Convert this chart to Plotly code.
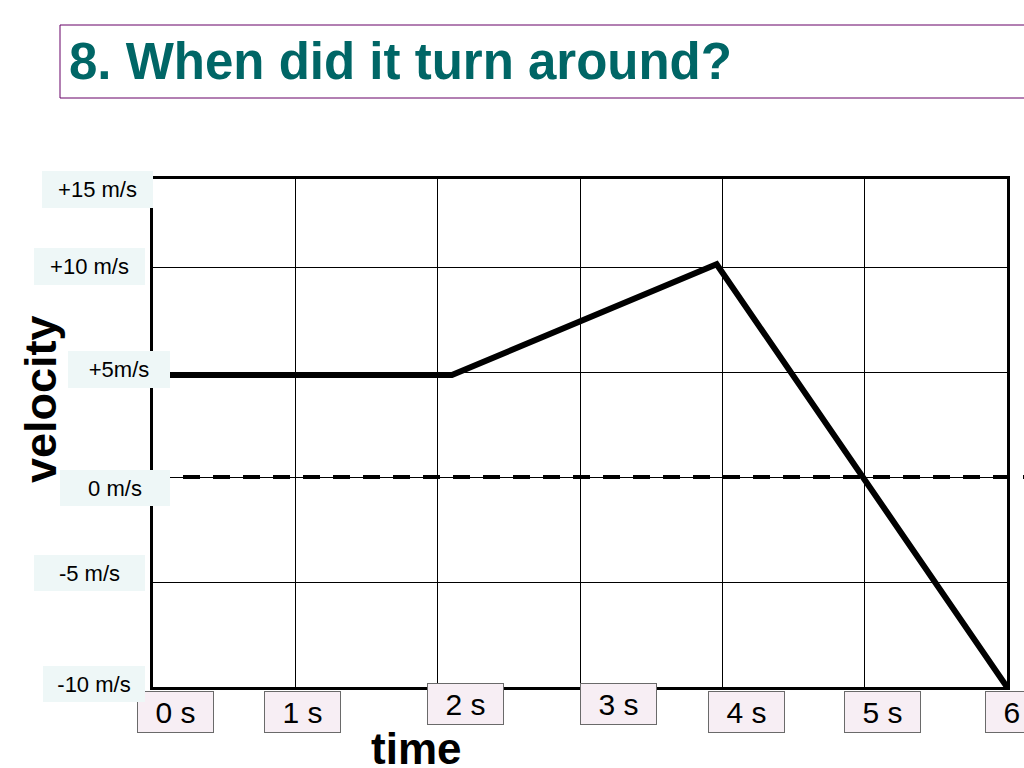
import plotly.graph_objects as go

# ---- data ----
times = [0, 2.1, 3.96, 6]
velocities = [4.86, 4.86, 10.14, -10]

x_tick_values = [0, 1, 2, 3, 4, 5, 6]
x_tick_labels = ["0 s", "1 s", "2 s", "3 s", "4 s", "5 s", "6 s"]

y_tick_values = [15, 10, 5, 0, -5, -10]
y_tick_labels = ["+15 m/s", "+10 m/s", "+5m/s", "0 m/s", "-5 m/s", "-10 m/s"]

title_text = "8. When did it turn around?"
x_title = "time"
y_title = "velocity"

# ---- layout geometry (page pixels) ----
W, H = 1024, 768
L, R, T, B = 153, 1007, 179, 687
PW, PH = R - L, B - T


def px(xp):
    return (xp - L) / PW


def py(yp):
    return (B - yp) / PH


FONT = "Liberation Sans, Arial, sans-serif"

fig = go.Figure()
fig.add_trace(go.Scatter(
    x=times, y=velocities, mode="lines",
    line=dict(color="black", width=6),
    hoverinfo="skip", showlegend=False,
))

# x label styling offsets (pixels)
x_shift = [22, 7, 28, 38, 24, 18, 16.5]
y_shift_x = [-25, -25, -16.5, -16.5, -25, -25, -25]

annotations = []
for v, lab, xs, ys in zip(x_tick_values, x_tick_labels, x_shift, y_shift_x):
    annotations.append(dict(
        x=v, y=-10, xref="x", yref="y", text=lab, showarrow=False,
        xshift=xs, yshift=ys, xanchor="center", yanchor="middle",
        font=dict(family=FONT, size=30, color="black"),
        bgcolor="#f7eef4", bordercolor="#6a6a6a", borderwidth=1,
        borderpad=0, width=75, height=40,
    ))

# y label styling (page pixels: box centre x, centre y, width, height)
y_lab_cx = [97, 89.5, 119, 115, 89.5, 94]
y_lab_cy = [189.5, 266.5, 369.5, 488, 573, 684]
y_lab_w = [111, 111, 102, 110, 111, 102]
y_lab_h = [37, 37, 37, 36, 36, 36]
for v, lab, cx, cy, bw, bh in zip(y_tick_values, y_tick_labels, y_lab_cx,
                                  y_lab_cy, y_lab_w, y_lab_h):
    annotations.append(dict(
        x=px(cx), y=py(cy), xref="paper", yref="paper", text=lab, showarrow=False,
        xanchor="center", yanchor="middle",
        font=dict(family=FONT, size=22, color="black"),
        bgcolor="#eef7f7", borderwidth=0, borderpad=0,
        width=bw, height=bh,
    ))

# title
annotations.append(dict(
    x=px(67), y=py(62), xref="paper", yref="paper", text="<b>%s</b>" % title_text,
    showarrow=False, xanchor="left", yanchor="middle",
    font=dict(family=FONT, size=51, color="#006666"),
))
# axis titles
annotations.append(dict(
    x=px(416), y=py(748), xref="paper", yref="paper", text="<b>%s</b>" % x_title,
    showarrow=False, xanchor="center", yanchor="middle",
    font=dict(family=FONT, size=44, color="black"),
))
annotations.append(dict(
    x=px(40), y=py(399), xref="paper", yref="paper", text="<b>%s</b>" % y_title,
    showarrow=False, xanchor="center", yanchor="middle", textangle=-90,
    font=dict(family=FONT, size=45, color="black"),
))

shapes = [
    dict(type="rect", xref="paper", yref="paper",
         x0=px(60), x1=px(1040), y0=py(98), y1=py(25),
         line=dict(color="#660066", width=1), fillcolor="rgba(0,0,0,0)"),
    dict(type="line", xref="paper", yref="y", x0=0, x1=px(1030), y0=0, y1=0,
         line=dict(color="black", width=4, dash="17px,13px"), layer="above"),
]

fig.update_layout(
    width=W, height=H,
    margin=dict(l=L, r=W - R, t=T, b=H - B, pad=0),
    paper_bgcolor="white", plot_bgcolor="white",
    showlegend=False,
    annotations=annotations,
    shapes=shapes,
    xaxis=dict(range=[0, 6], tickvals=x_tick_values, showticklabels=False,
               showgrid=True, gridcolor="black", gridwidth=1,
               showline=True, linecolor="black", linewidth=3, mirror=True,
               zeroline=False, ticks="", fixedrange=True),
    yaxis=dict(range=[-10, 14.2], tickvals=[-10, -5, 0, 5, 10],
               showticklabels=False,
               showgrid=True, gridcolor="black", gridwidth=1,
               showline=True, linecolor="black", linewidth=3, mirror=True,
               zeroline=False, ticks="", fixedrange=True),
)

fig.write_html(
    "out.html",
    config={"displayModeBar": False},
    post_script="document.body.style.margin='0';document.body.style.overflow='hidden';",
)
